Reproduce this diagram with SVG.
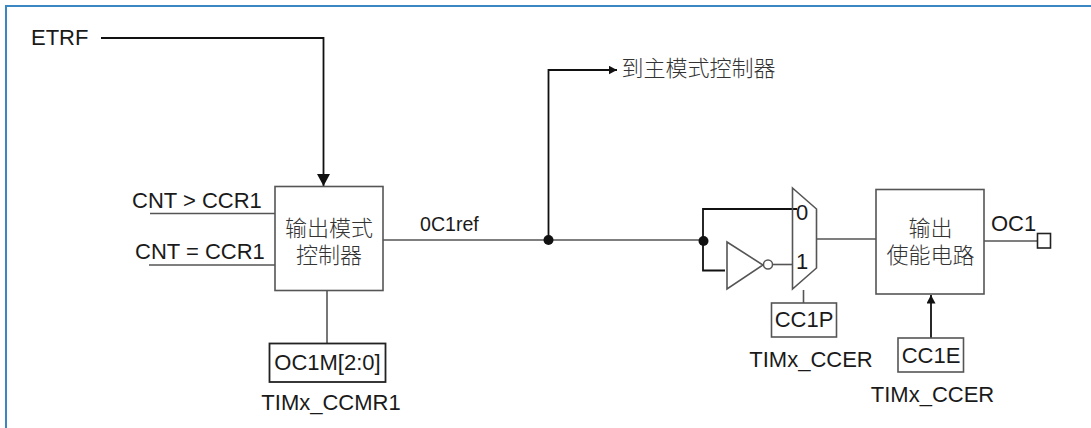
<svg xmlns="http://www.w3.org/2000/svg" width="1091" height="428" viewBox="0 0 1091 428">
<defs>
<marker id="ah" markerUnits="userSpaceOnUse" markerWidth="13" markerHeight="13" refX="12" refY="6.500" orient="auto"><path d="M0,0 L12,6.500 L0,13 Z" fill="#111"/></marker>
<marker id="as" markerUnits="userSpaceOnUse" markerWidth="9" markerHeight="9" refX="8.500" refY="4.500" orient="auto"><path d="M0,0 L8.500,4.500 L0,9 Z" fill="#111"/></marker>
</defs>
<style>
text{font-family:"Liberation Sans","Noto Sans CJK SC",sans-serif;fill:#1a1a1a;font-size:22px}
.cjk{font-weight:300;fill:#333;font-size:22px;text-anchor:middle}
.m{text-anchor:middle}
.box{fill:#fff;stroke:#555;stroke-width:1.600}
.g{fill:none;stroke:#555;stroke-width:1.600}
.k{fill:none;stroke:#111;stroke-width:1.800}
.dot{fill:#111}
</style>
<rect x="6" y="6" width="1300" height="600" fill="none" stroke="#3b87c4" stroke-width="2"/>
<g id="connectors">
<path class="k" d="M101,38 H323.500 V186" marker-end="url(#ah)"/>
<path class="g" d="M150,213.500 H275"/>
<path class="g" d="M149,265 H275"/>
<path class="g" d="M383,240 H703"/>
<path class="k" d="M548.500,240 V70 H617" marker-end="url(#as)"/>
<path class="k" d="M703,240 V209 H797"/>
<path class="k" d="M703,240 V270.500 H725"/>
<path class="g" d="M773,264.500 H793"/>
<path class="g" d="M817,239 H876"/>
<path class="g" d="M984,241 H1037"/>
<path class="g" d="M327,290 V343"/>
<path class="g" d="M803.500,290 V303"/>
<path class="k" d="M931,338 V295" marker-end="url(#as)"/>
<circle class="dot" cx="548.500" cy="240" r="5"/>
<circle class="dot" cx="703.500" cy="241" r="5"/>
</g>
<g id="etrf"><text x="31" y="45">ETRF</text></g>
<g id="cnt-gt"><text x="132" y="208">CNT &gt; CCR1</text></g>
<g id="cnt-eq"><text x="135" y="259">CNT = CCR1</text></g>
<g id="mode-controller"><rect class="box" x="275" y="186.500" width="108" height="104"/><text class="cjk" x="329" y="236">输出模式</text><text class="cjk" x="329" y="263">控制器</text></g>
<g id="oc1m"><rect x="269.500" y="343.500" width="116" height="38.500" fill="#fff" stroke="#222" stroke-width="1.800"/><text class="m" x="327.500" y="370">OC1M[2:0]</text></g>
<g id="ccmr1"><text class="m" x="331" y="410">TIMx_CCMR1</text></g>
<g id="oc1ref"><text x="420" y="231" style="font-size:19.600px">0C1ref</text></g>
<g id="to-master"><text class="cjk" x="698.500" y="76">到主模式控制器</text></g>
<g id="inverter"><path class="g" d="M727,242 L763,265 L727,289 Z"/><circle cx="768" cy="264.500" r="4.500" fill="#fff" stroke="#555" stroke-width="1.500"/></g>
<g id="mux"><path class="g" d="M792.500,188 L816.500,209 V268 L792.500,289 Z"/><text x="796" y="220">0</text><text x="796" y="269">1</text></g>
<g id="cc1p"><rect class="box" x="771.500" y="303" width="65" height="34"/><text class="m" x="804" y="327">CC1P</text></g>
<g id="ccer-1"><text class="m" x="811" y="367">TIMx_CCER</text></g>
<g id="enable-circuit"><rect class="box" x="876" y="189.500" width="108" height="104.500"/><text class="cjk" x="930.500" y="236">输出</text><text class="cjk" x="930.500" y="263">使能电路</text></g>
<g id="oc1"><text x="991" y="231">OC1</text><rect x="1037.500" y="233.500" width="13" height="14.500" fill="#fff" stroke="#222" stroke-width="1.600"/></g>
<g id="cc1e"><rect class="box" x="898" y="338" width="65.500" height="34"/><text class="m" x="931" y="362.500">CC1E</text></g>
<g id="ccer-2"><text class="m" x="932.500" y="402">TIMx_CCER</text></g>
</svg>
